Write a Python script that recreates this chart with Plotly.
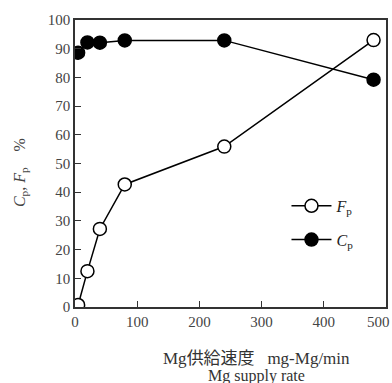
import plotly.graph_objects as go

supply_rate = [5, 20, 40, 80, 240, 480]
Fp = [0.7, 12.5, 27.2, 42.7, 55.9, 93.0]
Cp = [88.6, 92.2, 92.1, 92.9, 92.9, 79.2]
x_ticks = [0, 100, 200, 300, 400, 500]
x_tick_text = ["0", "100", "200", "300", "400", ""]

serif = "Liberation Serif"
fig = go.Figure()
fig.add_trace(go.Scatter(
    x=supply_rate, y=Fp, mode="lines+markers", name="<i>F</i><sub>p</sub>",
    legendgroup="f",
    line=dict(color="black", width=1.5),
    marker=dict(size=13, color="white", line=dict(color="black", width=1.5)),
))
fig.add_trace(go.Scatter(
    x=supply_rate, y=Cp, mode="lines+markers", name="<i>C</i><sub>p</sub>",
    legendgroup="c",
    line=dict(color="black", width=1.5),
    marker=dict(size=13, color="black", line=dict(color="black", width=1.5)),
))
fig.update_layout(
    width=392, height=383,
    margin=dict(l=75, r=6, t=20, b=76, autoexpand=False),
    plot_bgcolor="white", paper_bgcolor="white",
    font=dict(family=serif, size=15, color="#333"),
    showlegend=True,
    legend=dict(x=0.68, y=0.293, xanchor="left", yanchor="middle",
                bgcolor="rgba(0,0,0,0)", font=dict(family=serif, size=16, color="#222"),
                tracegroupgap=10, itemwidth=40),
    xaxis=dict(range=[0, 500], tickvals=x_ticks, ticktext=x_tick_text,
               ticks="inside", ticklen=6, tickcolor="#333", showgrid=False,
               zeroline=False, showline=True, linecolor="#333", linewidth=1.5, mirror=True,
               automargin=False,
               tickfont=dict(family=serif, size=15, color="#444")),
    yaxis=dict(range=[0, 100], tickvals=list(range(0, 101, 10)),
               ticks="inside", ticklen=6, tickcolor="#333", showgrid=False,
               zeroline=False, showline=True, linecolor="#333", linewidth=1.5, mirror=True,
               automargin=False,
               tickfont=dict(family=serif, size=15, color="#444")),
)
# last x tick label, pulled inside the page edge
fig.add_annotation(
    text=str(x_ticks[-1]), xref="x", yref="paper", x=x_ticks[-1], y=0,
    xanchor="right", yanchor="top", xshift=6, yshift=-5, showarrow=False,
    font=dict(family=serif, size=15, color="#444"),
)
fig.add_annotation(
    text="<i>C</i><sub>p</sub>, <i>F</i><sub>p</sub>\u00a0\u00a0\u00a0\u00a0%",
    xref="paper", yref="paper", x=-0.177, y=0.47, showarrow=False, textangle=-90,
    xanchor="center", yanchor="middle",
    font=dict(family=serif, size=16, color="#444"),
)
fig.add_annotation(
    text="Mg<span style='font-family:Noto Sans CJK JP'>供給速度</span>\u00a0\u00a0\u00a0mg-Mg/min",
    xref="paper", yref="paper", x=0.585, y=-0.172, showarrow=False,
    xanchor="center", yanchor="middle",
    font=dict(family=serif, size=17, color="#333"),
)
fig.add_annotation(
    text="Mg supply rate",
    xref="paper", yref="paper", x=0.585, y=-0.24, showarrow=False,
    xanchor="center", yanchor="middle",
    font=dict(family=serif, size=16, color="#333"),
)
fig.write_html("out.html")
